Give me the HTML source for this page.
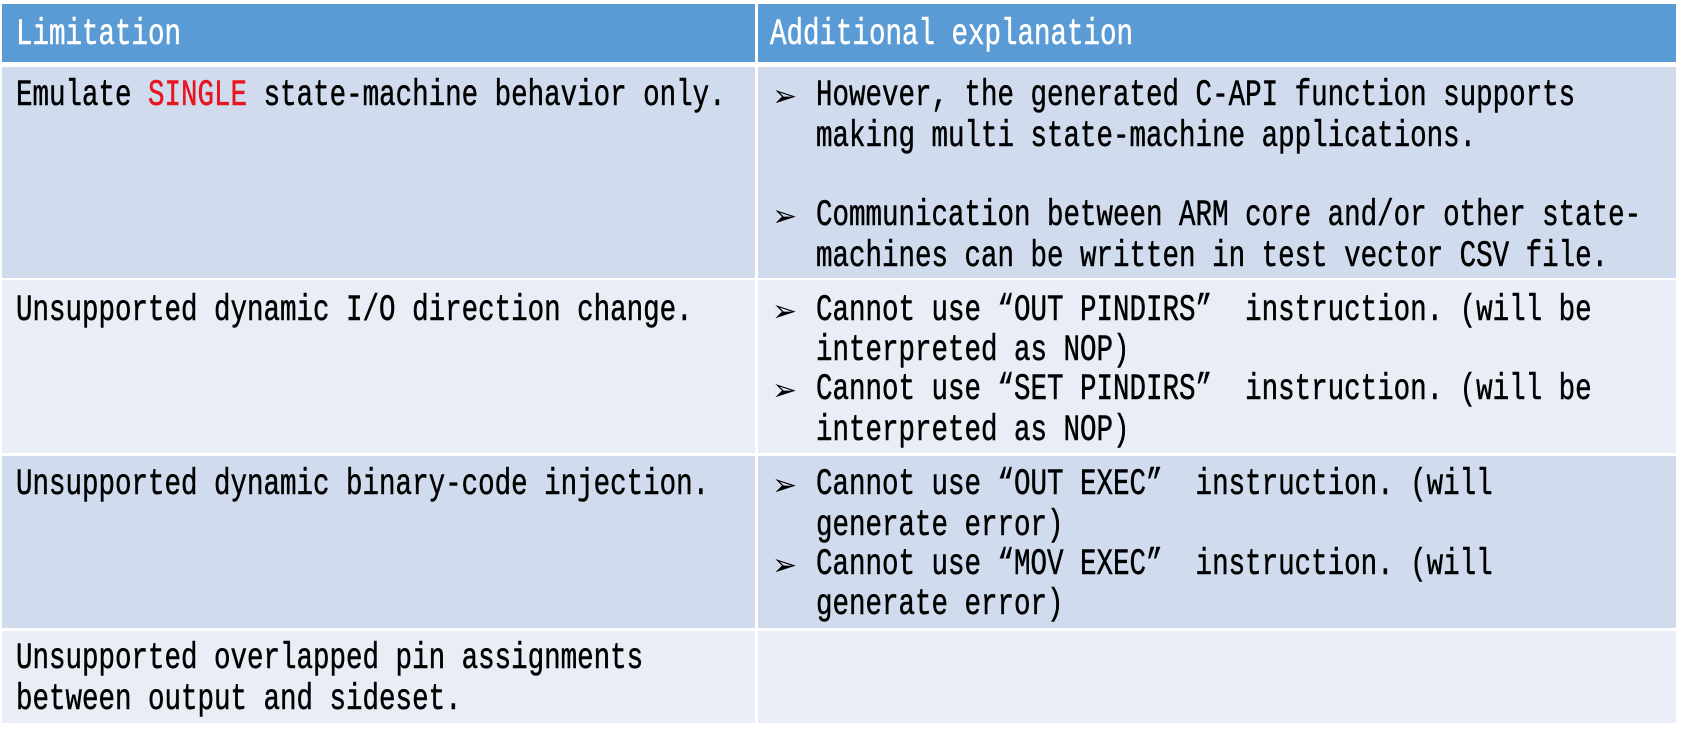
<!DOCTYPE html>
<html><head><meta charset="utf-8"><style>
body{margin:0;width:1681px;height:737px;background:#fff;position:relative;overflow:hidden;font-family:"Liberation Mono","Noto Sans CJK JP",monospace;font-size:27.5px;color:#000}
.r{position:absolute;}
.t{position:absolute;white-space:pre;line-height:40px;height:40px;transform:translateY(3px) scaleY(1.35);transform-origin:0 50%;-webkit-text-stroke:0.4px currentColor}
.b{position:absolute;font-family:"DejaVu Sans",sans-serif;font-size:30px;line-height:40px;transform:translateY(3px)}
</style></head><body>
<div class="r" style="left:2px;top:4px;width:753px;height:58px;background:#5B9BD5"></div>
<div class="r" style="left:758px;top:4px;width:918px;height:58px;background:#5B9BD5"></div>
<div class="r" style="left:2px;top:67px;width:753px;height:211px;background:#D0DCEE"></div>
<div class="r" style="left:758px;top:67px;width:918px;height:211px;background:#D0DCEE"></div>
<div class="r" style="left:2px;top:280px;width:753px;height:173px;background:#E9EEF6"></div>
<div class="r" style="left:758px;top:280px;width:918px;height:173px;background:#E9EEF6"></div>
<div class="r" style="left:2px;top:456px;width:753px;height:172px;background:#D0DCEE"></div>
<div class="r" style="left:758px;top:456px;width:918px;height:172px;background:#D0DCEE"></div>
<div class="r" style="left:2px;top:631px;width:753px;height:92px;background:#E9EEF6"></div>
<div class="r" style="left:758px;top:631px;width:918px;height:92px;background:#E9EEF6"></div>

<div class="t" style="left:16px;top:13px;color:#fff">Limitation</div>
<div class="t" style="left:770px;top:13px;color:#fff">Additional explanation</div>

<div class="t" style="left:16px;top:74px">Emulate <span style="color:#E8141E">SINGLE</span> state-machine behavior only.</div>
<div class="t" style="left:16px;top:289px">Unsupported dynamic I/O direction change.</div>
<div class="t" style="left:16px;top:463px">Unsupported dynamic binary-code injection.</div>
<div class="t" style="left:16px;top:637px">Unsupported overlapped pin assignments</div>
<div class="t" style="left:16px;top:678px">between output and sideset.</div>

<div class="b" style="left:772px;top:74px">➢</div>
<div class="t" style="left:816px;top:74px">However, the generated C-API function supports</div>
<div class="t" style="left:816px;top:115px">making multi state-machine applications.</div>
<div class="b" style="left:772px;top:194px">➢</div>
<div class="t" style="left:816px;top:194px">Communication between ARM core and/or other state-</div>
<div class="t" style="left:816px;top:235px">machines can be written in test vector CSV file.</div>

<div class="b" style="left:772px;top:289px">➢</div>
<div class="t" style="left:816px;top:289px">Cannot use “OUT PINDIRS”  instruction. (will be</div>
<div class="t" style="left:816px;top:329px">interpreted as NOP)</div>
<div class="b" style="left:772px;top:368px">➢</div>
<div class="t" style="left:816px;top:368px">Cannot use “SET PINDIRS”  instruction. (will be</div>
<div class="t" style="left:816px;top:409px">interpreted as NOP)</div>

<div class="b" style="left:772px;top:463px">➢</div>
<div class="t" style="left:816px;top:463px">Cannot use “OUT EXEC”  instruction. (will</div>
<div class="t" style="left:816px;top:504px">generate error)</div>
<div class="b" style="left:772px;top:543px">➢</div>
<div class="t" style="left:816px;top:543px">Cannot use “MOV EXEC”  instruction. (will</div>
<div class="t" style="left:816px;top:583px">generate error)</div>
</body></html>
